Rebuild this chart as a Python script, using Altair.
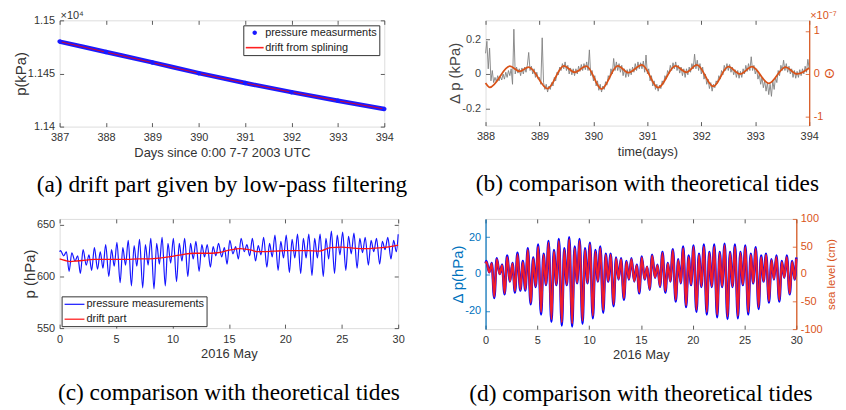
import altair as alt
import pandas as pd

FONT = "Liberation Sans"
SERIF = "Liberation Serif"
DARK = "#333333"
GREYTXT = "#444444"
ORANGE = "#D95319"
MBLUE = "#0072BD"

# ---------------- (a) drift part ----------------
a_days = [387, 388, 389, 390, 391, 392, 393, 394]
a_measured = [11480.0, 11470.2, 11460.4, 11450.3, 11441.0, 11432.4, 11424.3, 11416.6]
a_drift = [11480.0, 11470.1, 11460.3, 11450.2, 11441.0, 11432.4, 11424.3, 11416.6]
a_labels = ["pressure measurments", "drift from splining"]
a_yticks = [11400, 11450, 11500]

# ---------------- (b) residual vs theoretical tide ----------------
b_t0 = 388.0
b_dt = 0.025
b_grey = [
    0.12, 0.19, 0.03, 0.15, -0.04, 0.02, -0.05, -0.02, -0.045, -0.01,
    -0.04, -0.015, -0.035, 0.0, -0.03, 0.01, -0.02, 0.02, -0.01, 0.03,
    -0.06, 0.26, 0.0, 0.04, 0.005, 0.03, -0.01, 0.035, 0.0, 0.04,
    0.01, 0.05, 0.125, 0.02, 0.045, 0.0, 0.03, -0.02, 0.01, -0.03,
    -0.02, -0.06, 0.21, -0.05, -0.09, -0.06, -0.105, -0.07, -0.09, -0.05,
    -0.07, -0.02, -0.04, 0.01, -0.005, 0.04, 0.02, 0.06, 0.03, 0.07,
    0.02, 0.05, 0.0, 0.035, -0.005, 0.03, -0.01, 0.03, 0.0, 0.045,
    0.015, 0.055, 0.02, 0.06, 0.025, 0.07, 0.02, 0.14, -0.01, 0.02,
    -0.04, -0.01, -0.07, -0.04, -0.095, -0.06, -0.105, -0.07, -0.09, -0.045,
    -0.065, -0.01, -0.03, 0.03, 0.0, 0.09, 0.02, 0.07, 0.02, 0.06,
    0.01, 0.05, -0.01, 0.03, -0.02, 0.025, -0.015, 0.03, -0.005, 0.04,
    0.01, 0.06, 0.02, 0.07, 0.03, 0.065, 0.03, 0.075, 0.01, 0.11,
    0.0, 0.03, -0.04, -0.01, -0.07, -0.04, -0.09, -0.06, -0.1, -0.065,
    -0.085, -0.04, -0.06, -0.01, -0.03, 0.02, 0.0, 0.05, 0.02, 0.065,
    0.03, 0.07, 0.02, 0.05, 0.005, 0.04, -0.01, 0.03, -0.02, 0.03,
    -0.005, 0.04, 0.01, 0.06, 0.03, 0.115, 0.03, 0.08, 0.02, 0.06,
    0.0, 0.04, -0.03, 0.0, -0.06, -0.03, -0.085, -0.05, -0.1, -0.06,
    -0.08, -0.04, -0.055, -0.01, -0.03, 0.02, -0.005, 0.05, 0.02, 0.06,
    0.02, 0.055, 0.01, 0.04, -0.005, 0.025, -0.02, 0.02, -0.025, 0.015,
    -0.02, 0.03, 0.0, 0.05, 0.015, 0.06, 0.02, 0.1, 0.02, 0.05,
    0.0, 0.03, -0.03, 0.0, -0.06, -0.02, -0.08, -0.04, -0.1, -0.05,
    -0.12, -0.06, -0.13, -0.04, -0.09, -0.02, -0.05, 0.02, -0.01, 0.05,
    0.02, 0.08, 0.02, 0.06, 0.01, 0.045, 0.0, 0.03, -0.02, 0.02,
    -0.025, 0.015, -0.02, 0.025, -0.01, 0.03, 0.0, 0.045, 0.01, 0.085,
    0.03,
]
b_theta_t = [388.0, 388.08, 388.45, 388.63, 388.8, 389.15, 389.45, 389.65, 389.87,
             390.15, 390.45, 390.65, 390.9, 391.2, 391.52, 391.72, 391.92, 392.22,
             392.5, 392.72, 392.94, 393.25, 393.56, 393.77, 394.0]
b_theta = [-0.21, -0.31, 0.18, 0.06, 0.16, -0.34, 0.19, 0.04, 0.18,
           -0.35, 0.19, 0.03, 0.21, -0.32, 0.19, 0.04, 0.21, -0.29,
           0.17, 0.0, 0.17, -0.22, 0.16, 0.0, 0.14]

# ---------------- (c), (d) May 2016 ----------------
tide_offsets = [0.08, 0.36, 0.60, 0.84]   # big high, low, small high, low within each day
c_labels = ["pressure measurements", "drift part"]
c_start, c_end = 624, 641
c_extremes = [
    [625, 620, 624, 605], [623, 615, 620, 603], [626, 611, 621, 606], [628, 607, 624, 608],
    [631, 600, 626, 610], [633, 594, 628, 611], [635, 591, 630, 610], [636, 589, 631, 611],
    [637, 588, 632, 612], [638, 591, 632, 613], [637, 595, 632, 615], [637, 600, 632, 617],
    [634, 605, 631, 619], [631, 609, 629, 620], [632, 619, 628, 612], [635, 622, 629, 617],
    [637, 624, 631, 620], [637, 615, 630, 621], [638, 609, 632, 619], [640, 606, 634, 618],
    [640, 604, 636, 618], [641, 603, 637, 618], [641, 601, 637, 618], [641, 600, 637, 617],
    [644, 603, 640, 621], [643, 606, 639, 622], [642, 608, 637, 623], [638, 611, 635, 624],
    [637, 612, 634, 626], [638, 617, 635, 624],
]
c_drift_t = [0, 0.5, 1, 1.5, 2, 3, 4, 5, 6, 7, 8, 9, 10, 11, 12, 13, 14, 15, 16, 17,
             17.5, 18, 19, 20, 21, 22, 23, 24, 25, 26, 27, 28, 29, 30]
c_drift = [617, 615.5, 614.5, 615, 615.5, 616.5, 616.5, 616.5, 616.5, 617, 617, 618,
           619.5, 621.5, 622.5, 622.5, 623, 625.5, 627, 625.5, 624, 624, 624.5, 625,
           625, 625, 624.5, 628, 628.5, 627.5, 627, 627.5, 628.5, 630.5]

d_start_dp, d_end_dp = 6, 9
d_dp = [
    [7, 1, 6, -13], [8.5, 0, 5, -11], [10, -4, 6, -10], [11.5, -9, 7, -9],
    [14, -16.5, 9, -7], [16, -22, 11, -6], [18, -26, 13, -6], [19, -28, 14, -6],
    [20, -28.5, 15, -5], [19, -27, 14, -5], [17, -24, 13, -4], [15, -21, 11, -4],
    [11, -17.5, 9, -3], [8.5, -14, 7, -3], [8.5, -4, 5, -10.5], [9.5, -3, 4, -8.5],
    [10.5, -2, 5, -7], [12, -10, 6, -4], [13.5, -15, 8, -5], [15, -18, 10, -6],
    [15.5, -20.5, 11, -7], [16, -22, 12, -7], [16, -23.5, 12, -7], [16.5, -24.5, 12, -7],
    [16, -24, 12, -6], [15.5, -22, 11, -5], [14.5, -19, 10, -4], [11, -15.5, 8, -3],
    [10, -15, 7, -2], [10, -11, 7, -3],
]
d_start_sea, d_end_sea = 19, 28
d_sea = [
    [22, 3, 19, -41], [27, 0, 16, -35], [31, -13, 19, -31], [36, -28, 22, -28],
    [44, -52, 28, -22], [50, -69, 35, -19], [57, -82, 41, -19], [60, -88, 44, -19],
    [63, -90, 47, -16], [60, -85, 44, -16], [54, -76, 41, -13], [47, -66, 35, -13],
    [35, -55, 28, -9], [27, -44, 22, -9], [27, -13, 16, -33], [30, -9, 13, -27],
    [33, -6, 16, -22], [38, -31, 19, -13], [43, -47, 25, -16], [47, -57, 31, -19],
    [49, -65, 35, -22], [50, -69, 38, -22], [50, -74, 38, -22], [52, -77, 38, -22],
    [50, -76, 38, -19], [49, -69, 35, -16], [46, -60, 31, -13], [35, -49, 25, -9],
    [31, -47, 22, -6], [31, -35, 22, -9],
]


def tide_series(start, rows, end):
    t = [0.0]
    v = [start]
    for day, row in enumerate(rows):
        for off, val in zip(tide_offsets, row):
            t.append(day + off)
            v.append(val)
    t.append(30.0)
    v.append(end)
    return t, v


NEG = "(datum.value < 0 ? '-' : '') + format(abs(datum.value), '~g')"


def axis(orient, values, color=DARK, labels=True, title=None, expr=NEG,
         tsize=13, angle=None, lpad=5, tpad=4, tbase=None):
    kw = dict(orient=orient, values=values, offset=-4, domain=False, grid=False,
              ticks=True, tickSize=4, tickColor=color, tickWidth=0.8,
              labels=labels, labelFlush=False)
    if labels:
        kw.update(labelFont=FONT, labelFontSize=11, labelColor=color,
                  labelPadding=lpad, labelExpr=expr)
    if title is not None:
        kw.update(title=title, titleFont=FONT, titleFontSize=tsize,
                  titleColor=color, titleFontWeight="normal", titlePadding=tpad)
        if angle is not None:
            kw["titleAngle"] = angle
        if tbase is not None:
            kw["titleBaseline"] = tbase
    else:
        kw["title"] = None
    return alt.Axis(**kw)


def edge_axis(orient, color):
    return alt.Axis(orient=orient, offset=0, domain=True, domainColor=color,
                    domainWidth=1.2, ticks=False, labels=False, grid=False, title=None)


def caption(s, off):
    return alt.TitleParams(s, orient="bottom", anchor="middle", font=SERIF,
                           fontSize=23.5, fontWeight="normal", color="black", offset=off)


def lin(lo, hi):
    return alt.Scale(domain=[lo, hi], nice=False, zero=False)


# ---------------- panel (a) ----------------
dfa = pd.DataFrame({"day": a_days, "meas": a_measured, "drift": a_drift,
                    "series": a_labels[0]})
xa, ya = lin(387, 394), lin(11400, 11500)
a_leg = dict(title=None, orient="top-right", offset=5, padding=2, strokeColor="#333333",
             fillColor="white", labelFont=FONT, labelFontSize=11, labelColor="#222222",
             symbolSize=100, symbolStrokeWidth=0, rowPadding=3, symbolOffset=4,
             labelOffset=5)
dot_path = "M0,-0.45A0.45,0.45 0 1,1 0,0.45A0.45,0.45 0 1,1 0,-0.45Z"
bar_path = "M-1.8,-0.16L1.8,-0.16L1.8,0.16L-1.8,0.16Z"

a1 = alt.Chart(dfa).mark_line(color="#1a1aff", strokeWidth=4.5, interpolate="monotone").encode(
    x=alt.X("day:Q", scale=xa, axis=axis("bottom", a_days, title="Days since 0:00 7-7 2003 UTC")),
    y=alt.Y("meas:Q", scale=ya, axis=axis("left", a_yticks, title="p(kPa)", tsize=15, tpad=-1,
                                            expr="format(datum.value/10000, '~g')")))
a2 = alt.Chart(dfa).mark_line(color="#ff0000", strokeWidth=0.8, interpolate="monotone").encode(
    x=alt.X("day:Q", scale=xa, axis=None), y=alt.Y("drift:Q", scale=ya, axis=None))
a3 = alt.Chart(dfa).mark_point(filled=True, size=100, opacity=1).encode(
    x=alt.X("day:Q", scale=xa, axis=None), y=alt.Y("meas:Q", scale=ya, axis=None),
    color=alt.Color("series:N", scale=alt.Scale(domain=a_labels, range=["#1a1aff", "#ff2020"]),
                    legend=alt.Legend(**a_leg)),
    shape=alt.Shape("series:N", scale=alt.Scale(domain=a_labels, range=[dot_path, bar_path]),
                    legend=alt.Legend(**a_leg)))
a4 = alt.Chart(dfa).mark_line(opacity=0).encode(
    x=alt.X("day:Q", scale=xa, axis=axis("top", a_days, labels=False)),
    y=alt.Y("meas:Q", scale=ya, axis=axis("right", a_yticks, labels=False)))
a5 = alt.Chart(pd.DataFrame({"x": [387], "y": [11500], "t": ["×10⁴"]})).mark_text(
    align="left", baseline="bottom", dx=1, dy=1, font=FONT, fontSize=11, color=DARK).encode(
    x=alt.X("x:Q", scale=xa, axis=None), y=alt.Y("y:Q", scale=ya, axis=None), text="t:N")
pa = alt.layer(a1, a2, a3, a4, a5).properties(
    width=327, height=107, title=caption("(a) drift part given by low-pass filtering", 14))

# ---------------- panel (b) ----------------
# plot frame is 2 px taller at the top than the reference; the scale top is extended to match
dfb = pd.DataFrame({"t": [b_t0 + b_dt * i for i in range(len(b_grey))], "v": b_grey})
dfbt = pd.DataFrame({"t": b_theta_t, "v": b_theta})
xb, yb, yb2 = lin(388, 394), lin(-0.3, 0.3115), lin(-1.2, 1.246)
b_days = [388, 389, 390, 391, 392, 393, 394]
b1 = alt.Chart(dfb).mark_line(color="#808080", strokeWidth=0.9).encode(
    x=alt.X("t:Q", scale=xb, axis=axis("bottom", b_days, title="time(days)")),
    y=alt.Y("v:Q", scale=yb, axis=axis("left", [-0.2, 0, 0.2], color=GREYTXT,
                                         title="Δ p (kPa)", tsize=15, tpad=-1)))
b2 = alt.Chart(dfbt).mark_line(color=ORANGE, strokeWidth=1.8, interpolate="monotone").encode(
    x=alt.X("t:Q", scale=xb, axis=None),
    y=alt.Y("v:Q", scale=yb2, axis=axis("right", [-1, 0, 1], color=ORANGE, title="Θ",
                                          tsize=13, angle=270, lpad=4, tpad=1, tbase="top")))
b3 = alt.Chart(dfbt).mark_line(opacity=0).encode(
    x=alt.X("t:Q", scale=xb, axis=axis("top", b_days, labels=False)),
    y=alt.Y("v:Q", scale=yb2, axis=None))
b4 = alt.Chart(dfbt).mark_line(opacity=0).encode(
    x=alt.X("t:Q", scale=xb, axis=None),
    y=alt.Y("v:Q", scale=yb2, axis=edge_axis("right", ORANGE)))
b5 = alt.Chart(pd.DataFrame({"x": [394], "y": [1.246], "t": ["×10⁻⁷"]})).mark_text(
    align="left", baseline="bottom", dx=1, dy=1, font=FONT, fontSize=11, color=ORANGE).encode(
    x=alt.X("x:Q", scale=xb, axis=None), y=alt.Y("y:Q", scale=yb2, axis=None), text="t:N")
pb = alt.layer(b1, b2, b3, b4, b5).resolve_scale(y="independent").properties(
    width=326, height=106, title=caption("(b) comparison with theoretical tides", 14))

# ---------------- panel (c) ----------------
c_t, c_v = tide_series(c_start, c_extremes, c_end)
dfc = pd.DataFrame({"t": c_t, "v": c_v, "series": c_labels[0]})
dfcd = pd.DataFrame({"t": c_drift_t, "v": c_drift, "series": c_labels[1]})
xc, yc = lin(0, 30), lin(550, 655.77)
may_ticks = [0, 5, 10, 15, 20, 25, 30]
c_leg = alt.Legend(title=None, orient="bottom-left", offset=2, padding=2,
                   strokeColor="#333333", fillColor="white", labelFont=FONT,
                   labelFontSize=11, labelColor="#222222", symbolType="M-2,0L2,0",
                   symbolSize=100, symbolStrokeWidth=1.2, rowPadding=4,
                   symbolOffset=5, labelOffset=6)
c_color = alt.Scale(domain=c_labels, range=["#1414ff", "#ff1010"])
c1 = alt.Chart(dfc).mark_line(strokeWidth=1.2, interpolate="monotone").encode(
    x=alt.X("t:Q", scale=xc, axis=axis("bottom", may_ticks, title="2016 May")),
    y=alt.Y("v:Q", scale=yc, axis=axis("left", [550, 600, 650], title="p (hPa)",
                                         tsize=15, tpad=-1)),
    color=alt.Color("series:N", scale=c_color, legend=c_leg))
c2 = alt.Chart(dfcd).mark_line(strokeWidth=1.3, interpolate="monotone").encode(
    x=alt.X("t:Q", scale=xc, axis=None), y=alt.Y("v:Q", scale=yc, axis=None),
    color=alt.Color("series:N", scale=c_color, legend=c_leg))
c3 = alt.Chart(dfcd).mark_line(opacity=0).encode(
    x=alt.X("t:Q", scale=xc, axis=axis("top", may_ticks, labels=False)),
    y=alt.Y("v:Q", scale=yc, axis=axis("right", [550, 600, 650], labels=False)))
pc = alt.layer(c1, c2, c3).properties(
    width=341, height=110, title=caption("(c) comparison with theoretical tides", 20))

# ---------------- panel (d) ----------------
d_t, d_v = tide_series(d_start_dp, d_dp, d_end_dp)
d_t2, d_v2 = tide_series(d_start_sea, d_sea, d_end_sea)
dfd = pd.DataFrame({"t": d_t, "v": d_v})
dfd2 = pd.DataFrame({"t": d_t2, "v": d_v2})
xd, yd, yd2 = lin(0, 30), lin(-30, 30), lin(-100, 100)
d1 = alt.Chart(dfd).mark_line(color="#0000ff", strokeWidth=2.6, interpolate="monotone").encode(
    x=alt.X("t:Q", scale=xd, axis=axis("bottom", may_ticks, title="2016 May")),
    y=alt.Y("v:Q", scale=yd, axis=axis("left", [-20, 0, 20], color=MBLUE,
                                         title="Δ p(hPa)", tsize=15, tpad=-1)))
d2 = alt.Chart(dfd2).mark_line(color="#f01c2c", strokeWidth=2.0, interpolate="monotone").encode(
    x=alt.X("t:Q", scale=xd, axis=None),
    y=alt.Y("v:Q", scale=yd2, axis=axis("right", [-100, -50, 0, 50, 100], color=ORANGE,
                                          title="sea level (cm)", tsize=11.5, angle=270,
                                          lpad=4, tpad=3, tbase="top")))
d3 = alt.Chart(dfd).mark_line(opacity=0).encode(
    x=alt.X("t:Q", scale=xd, axis=axis("top", may_ticks, labels=False)),
    y=alt.Y("v:Q", scale=yd, axis=None))
d4 = alt.Chart(dfd).mark_line(opacity=0).encode(
    x=alt.X("t:Q", scale=xd, axis=None), y=alt.Y("v:Q", scale=yd, axis=edge_axis("left", MBLUE)))
d5 = alt.Chart(dfd2).mark_line(opacity=0).encode(
    x=alt.X("t:Q", scale=xd, axis=None), y=alt.Y("v:Q", scale=yd2, axis=edge_axis("right", ORANGE)))
pdd = alt.layer(d1, d2, d3, d4, d5).resolve_scale(y="independent").properties(
    width=313, height=111, title=caption("(d) comparison with theoretical tides", 20))

chart = alt.concat(
    pa, pb, pc, pdd, columns=2, spacing={"row": 93, "column": 88}, bounds="flush",
).resolve_scale(color="independent", shape="independent").resolve_legend(
    color="independent", shape="independent"
).properties(
    padding={"left": 4, "top": 0, "right": 0, "bottom": 0}
).configure_view(stroke="#4d4d4d", strokeWidth=0.8).configure(font=FONT)

chart.save("out.html", embed_options={"renderer": "svg", "actions": False})
